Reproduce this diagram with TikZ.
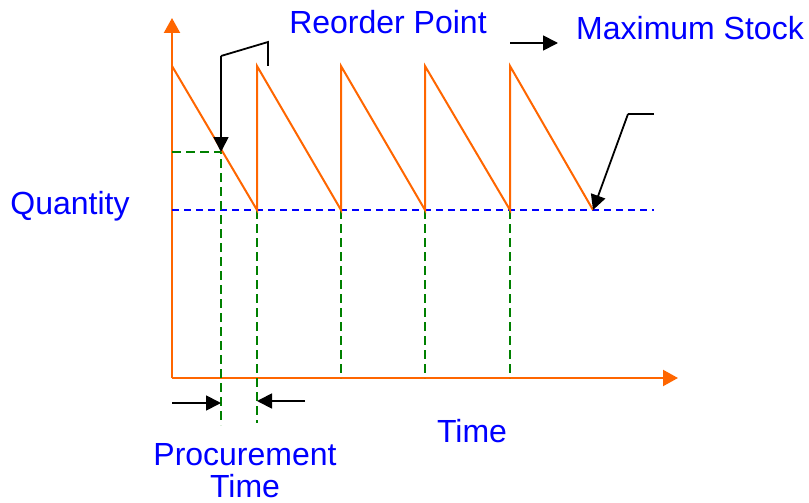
\documentclass[tikz,border=0pt]{standalone}
\usepackage{fontspec}
\setmainfont{Liberation Sans}
\usetikzlibrary{arrows.meta}
\definecolor{axisorange}{RGB}{255,102,0}
\definecolor{dgreen}{RGB}{0,128,0}
\tikzset{
  axisline/.style={draw=axisorange, line width=2.2pt, -{Triangle[length=15pt,width=16pt]}},
  saw/.style={draw=axisorange, line width=2pt, line join=miter},
  bluedash/.style={draw=blue, line width=1.4pt, dash pattern=on 7pt off 5pt},
  greendash/.style={draw=dgreen, line width=1.8pt, dash pattern=on 9pt off 5pt},
  pointer/.style={draw=black, line width=1.8pt, -{Triangle[length=15pt,width=15pt]}},
  plainline/.style={draw=black, line width=1.8pt},
  lbl/.style={text=blue, font=\fontsize{32}{32}\selectfont, inner sep=0pt, anchor=base},
}
\begin{document}
\begin{tikzpicture}[x=1pt,y=-1pt]
\useasboundingbox (0,0) rectangle (809,503);
% axes
\coordinate (O) at (172,378);
\coordinate (ytop) at (172,18);
\coordinate (xend) at (678,378);
\draw[axisline] (O) -- (ytop);
\draw[axisline] (O) -- (xend);
% reference level
\coordinate (b0) at (172,210);
\coordinate (bend) at (654,210);
\draw[bluedash] (b0) -- (bend);
% reorder level
\coordinate (r0) at (172,152);
\coordinate (rp) at (221,152);
\coordinate (rpb) at (221,425);
\draw[greendash] (r0) -- (rp) -- (rpb);
% sawtooth
\coordinate (p0) at (172,66);
\coordinate (v1) at (257,210);
\coordinate (p1) at (257,66);
\coordinate (v2) at (341,210);
\coordinate (p2) at (341,66);
\coordinate (v3) at (425,210);
\coordinate (p3) at (425,66);
\coordinate (v4) at (510,210);
\coordinate (p4) at (510,66);
\coordinate (v5) at (593,210);
% green verticals
\coordinate (a1b) at (257,423);
\coordinate (a2) at (341,378);
\coordinate (a3) at (425,378);
\coordinate (a4) at (510,378);
\draw[greendash] (v1) -- (a1b);
\draw[greendash] (v2) -- (a2);
\draw[greendash] (v3) -- (a3);
\draw[greendash] (v4) -- (a4);
\draw[saw] (p0) -- (v1) -- (p1) -- (v2) -- (p2) -- (v3) -- (p3) -- (v4) -- (p4) -- (v5);
% labels
\node[lbl] (reorder) at (388,34) {Reorder Point};
\node[lbl] (maxstock) at (690,40) {Maximum Stock};
\node[lbl] (quantity) at (70,214) {Quantity};
\node[lbl] (time) at (472,442) {Time};
\node[lbl] (proc) at (245,465) {Procurement};
\node[lbl] (proctime) at (245,497) {Time};
% reorder point pointer
\coordinate (k1) at (268,66);
\coordinate (k2) at (268,42);
\coordinate (k3) at (221,56);
\draw[plainline] (k1) -- (k2) -- (k3);
\draw[pointer] (k3) -- (rp);
% max stock pointer
\coordinate (m1) at (510,43);
\coordinate (m2) at (558,43);
\draw[pointer] (m1) -- (m2);
% minimum pointer
\coordinate (n1) at (654,114);
\coordinate (n2) at (628,114);
\draw[plainline] (n1) -- (n2);
\draw[pointer] (n2) -- (v5);
% procurement time arrows
\coordinate (pl) at (172,403);
\coordinate (pl2) at (221,403);
\coordinate (pr) at (305,401);
\coordinate (pr2) at (257,401);
\draw[pointer] (pl) -- (pl2);
\draw[pointer] (pr) -- (pr2);
\end{tikzpicture}
\end{document}
